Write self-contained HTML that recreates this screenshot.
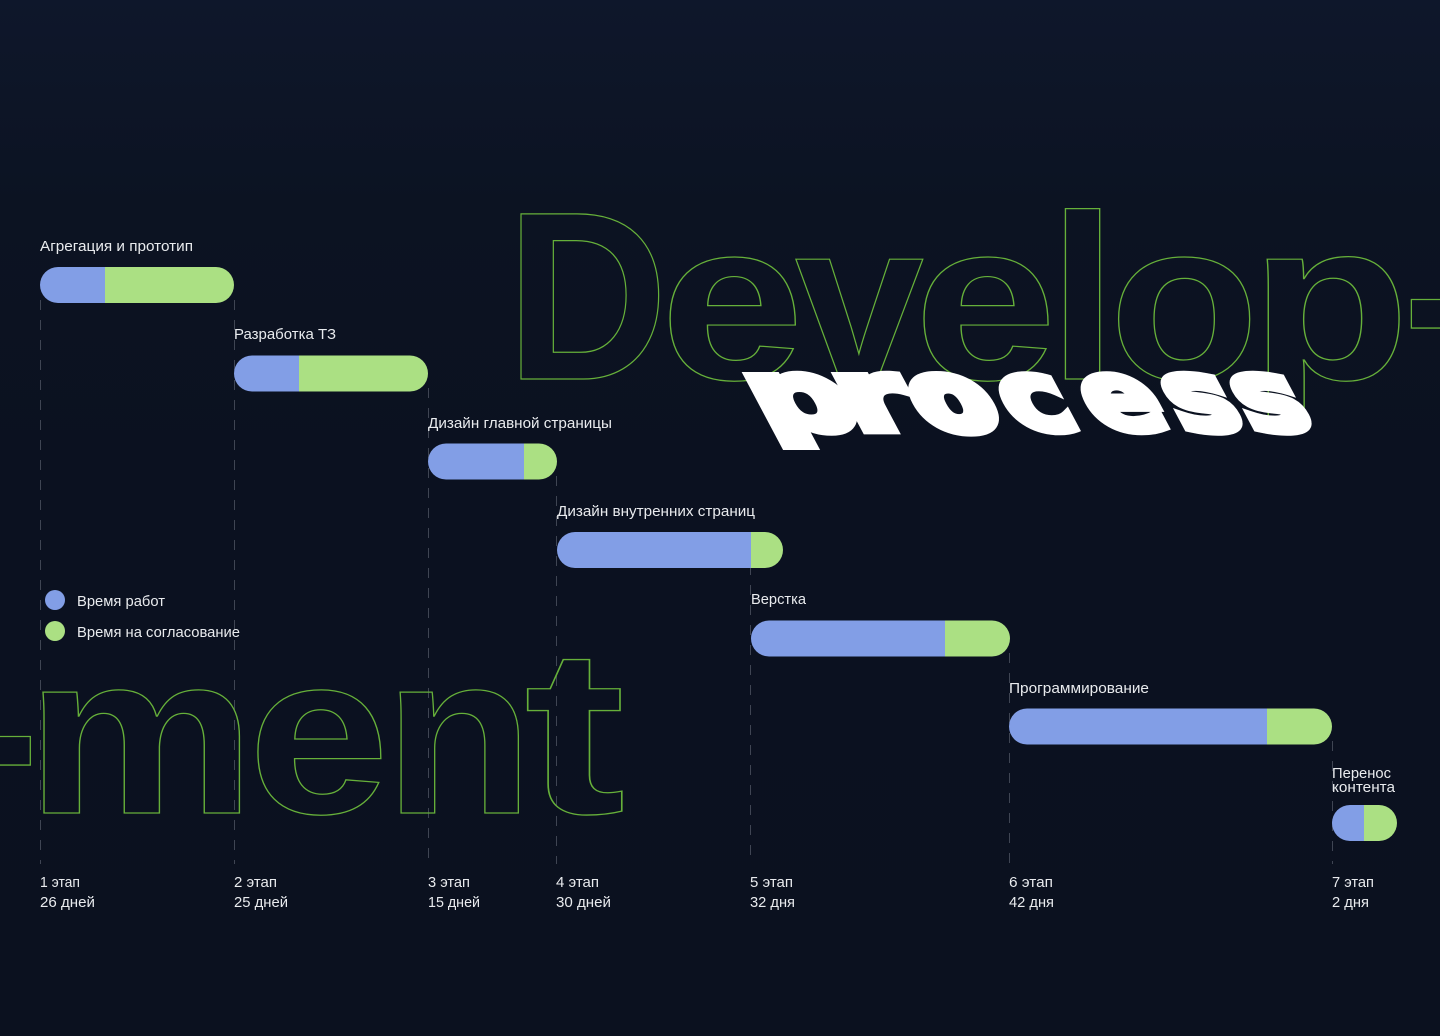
<!DOCTYPE html>
<html lang="ru"><head><meta charset="utf-8"><title>Development process</title>
<style>
html,body{margin:0;padding:0;width:1440px;height:1036px;overflow:hidden;background:#0b111f}
svg{display:block}
.o text{font-family:"Liberation Sans",sans-serif;font-weight:700;font-size:240px;fill:none;stroke:#66b03a;stroke-width:1.3}
.p text{font-family:"DejaVu Sans","Liberation Sans",sans-serif;font-weight:700;font-size:100px;fill:#fff;stroke:#fff;stroke-width:7;stroke-linejoin:miter}
.t text{font-family:"Liberation Sans","Noto Sans CJK SC",sans-serif;font-size:14.5px;fill:#e9ebee}
.d line{stroke:#3f4553;stroke-width:1;stroke-dasharray:10 10}
</style></head><body>
<svg width="1440" height="1036" viewBox="0 0 1440 1036" xmlns="http://www.w3.org/2000/svg">
<defs><linearGradient id="bg" x1="0" y1="0" x2="0" y2="1"><stop offset="0" stop-color="#0e172b"/><stop offset=".2" stop-color="#0c1322"/><stop offset=".45" stop-color="#0b1120"/><stop offset="1" stop-color="#0b111f"/></linearGradient>
<clipPath id="c"><rect x="700" y="300" width="700" height="150"/></clipPath></defs>
<rect width="1440" height="1036" fill="url(#bg)"/>
<g class="d">
<line x1="40.5" y1="300" x2="40.5" y2="864"/>
<line x1="234.5" y1="300" x2="234.5" y2="864"/>
<line x1="428.5" y1="388" x2="428.5" y2="864"/>
<line x1="556.5" y1="476" x2="556.5" y2="864"/>
<line x1="750.5" y1="565" x2="750.5" y2="864"/>
<line x1="1009.5" y1="653" x2="1009.5" y2="864"/>
<line x1="1332.5" y1="741" x2="1332.5" y2="864"/>
</g>
<g class="o">
<text transform="translate(506,379) scale(.935,1)">D</text>
<text transform="translate(660,379) scale(1.08,.945)">e</text>
<text transform="translate(795,379) scale(.965,.945)">v</text>
<text transform="translate(914,379) scale(1.07,.945)">e</text>
<text transform="translate(1048,379) scale(1.04,.98)">l</text>
<text transform="translate(1109,379) scale(1.025,.945)">o</text>
<text transform="translate(1250,379) scale(1.09,.945)">p</text>
<text transform="translate(1402,376)">-</text>
<text transform="translate(-40,813)">-</text>
<text transform="translate(26,813) scale(1.075,.953)">m</text>
<text transform="translate(248,813) scale(1.06,.953)">e</text>
<text transform="translate(384,813) scale(1.02,.953)">n</text>
<text transform="translate(524,813) scale(1.27,.98)">t</text>
</g>
<g fill="#829ee6">
<path d="M58 267H105V303H58a18 18 0 0 1 0-36z"/>
<path d="M252 355.500H299V391.500H252a18 18 0 0 1 0-36z"/>
<path d="M446 443.500H524V479.500H446a18 18 0 0 1 0-36z"/>
<path d="M575 532H751V568H575a18 18 0 0 1 0-36z"/>
<path d="M769 620.500H945V656.500H769a18 18 0 0 1 0-36z"/>
<path d="M1027 708.500H1267V744.500H1027a18 18 0 0 1 0-36z"/>
<path d="M1350 805H1364V841H1350a18 18 0 0 1 0-36z"/>
<circle cx="55" cy="600" r="10"/>
</g>
<g fill="#abe083">
<path d="M105 267H216a18 18 0 0 1 0 36H105z"/>
<path d="M299 355.500H410a18 18 0 0 1 0 36H299z"/>
<path d="M524 443.500H539a18 18 0 0 1 0 36H524z"/>
<path d="M751 532H765a18 18 0 0 1 0 36H751z"/>
<path d="M945 620.500H992a18 18 0 0 1 0 36H945z"/>
<path d="M1267 708.500H1314a18 18 0 0 1 0 36H1267z"/>
<path d="M1364 805H1379a18 18 0 0 1 0 36H1364z"/>
<circle cx="55" cy="631" r="10"/>
</g>
<g class="p" clip-path="url(#c)">
<text transform="translate(767,430) skewX(28) scale(1.4,.98)" style="stroke-width:9">p</text>
<text transform="translate(856,430) skewX(28) scale(1.4,.98)" style="stroke-width:9">r</text>
<text transform="translate(928,430) skewX(28) scale(1.15,.96)" style="stroke-width:11">o</text>
<text transform="translate(1017,430) skewX(28) scale(1.12,.98)" style="stroke-width:8">c</text>
<text transform="translate(1099,430) skewX(28) scale(1.12,.98)" style="stroke-width:8">e</text>
<text transform="translate(1183,430) skewX(28) scale(1.1,.98)" style="stroke-width:9">s</text>
<text transform="translate(1252,430) skewX(28) scale(1.1,.98)" style="stroke-width:9">s</text>
</g>
<g class="t">
<text x="40" y="251" textLength="153" lengthAdjust="spacingAndGlyphs">Агрегация и прототип</text>
<text x="234" y="339" textLength="102" lengthAdjust="spacingAndGlyphs">Разработка ТЗ</text>
<text x="428" y="428" textLength="184" lengthAdjust="spacingAndGlyphs">Дизайн главной страницы</text>
<text x="557" y="516" textLength="198" lengthAdjust="spacingAndGlyphs">Дизайн внутренних страниц</text>
<text x="751" y="604" textLength="55" lengthAdjust="spacingAndGlyphs">Верстка</text>
<text x="1009" y="693" textLength="140" lengthAdjust="spacingAndGlyphs">Программирование</text>
<text x="1332" y="778" textLength="59" lengthAdjust="spacingAndGlyphs">Перенос</text>
<text x="1332" y="792" textLength="63" lengthAdjust="spacingAndGlyphs">контента</text>
<text x="77" y="606" textLength="88" lengthAdjust="spacingAndGlyphs">Время работ</text>
<text x="77" y="637" textLength="163" lengthAdjust="spacingAndGlyphs">Время на согласование</text>
<text x="40" y="887" textLength="40" lengthAdjust="spacingAndGlyphs">1 этап</text>
<text x="40" y="907" textLength="55" lengthAdjust="spacingAndGlyphs">26 дней</text>
<text x="234" y="887" textLength="43" lengthAdjust="spacingAndGlyphs">2 этап</text>
<text x="234" y="907" textLength="54" lengthAdjust="spacingAndGlyphs">25 дней</text>
<text x="428" y="887" textLength="42" lengthAdjust="spacingAndGlyphs">3 этап</text>
<text x="428" y="907" textLength="52" lengthAdjust="spacingAndGlyphs">15 дней</text>
<text x="556" y="887" textLength="43" lengthAdjust="spacingAndGlyphs">4 этап</text>
<text x="556" y="907" textLength="55" lengthAdjust="spacingAndGlyphs">30 дней</text>
<text x="750" y="887" textLength="43" lengthAdjust="spacingAndGlyphs">5 этап</text>
<text x="750" y="907" textLength="45" lengthAdjust="spacingAndGlyphs">32 дня</text>
<text x="1009" y="887" textLength="44" lengthAdjust="spacingAndGlyphs">6 этап</text>
<text x="1009" y="907" textLength="45" lengthAdjust="spacingAndGlyphs">42 дня</text>
<text x="1332" y="887" textLength="42" lengthAdjust="spacingAndGlyphs">7 этап</text>
<text x="1332" y="907" textLength="37" lengthAdjust="spacingAndGlyphs">2 дня</text>
</g>
</svg>
</body></html>
